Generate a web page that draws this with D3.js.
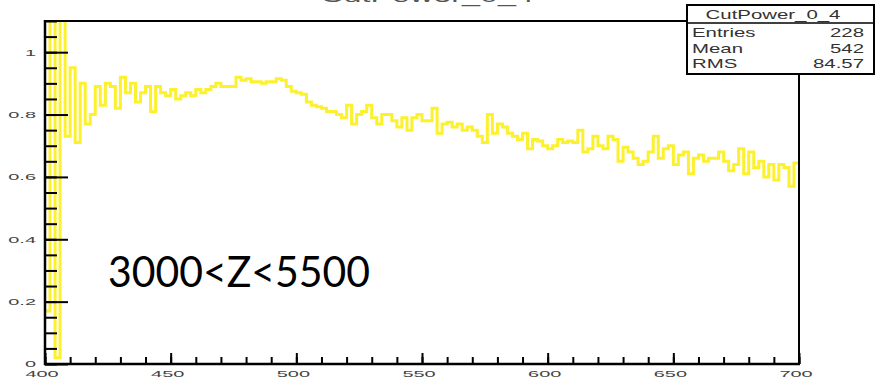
<!DOCTYPE html>
<html><head><meta charset="utf-8">
<script src="https://cdn.jsdelivr.net/npm/d3@7/dist/d3.min.js"></script>
<style>body{margin:0;background:#fff;overflow:hidden}</style>
</head><body>
<svg id="c" width="875" height="380"></svg>
<script>
// ---- data ----
const histName = "CutPower_0_4";
const binLow = 400;
const binWidth = 2;
const binValues = [
  0.17, 1.2, 0.02, 1.2, 0.73, 0.95, 0.71, 0.90, 0.77, 0.80,
  0.89, 0.83, 0.90, 0.89, 0.82, 0.92, 0.87, 0.90, 0.84, 0.87,
  0.89, 0.81, 0.89, 0.87, 0.86, 0.88, 0.85, 0.86, 0.87, 0.86,
  0.88, 0.87, 0.88, 0.89, 0.90, 0.89, 0.89, 0.89, 0.92, 0.91,
  0.915, 0.905, 0.905, 0.90, 0.905, 0.905, 0.915, 0.91, 0.89, 0.875,
  0.87, 0.865, 0.84, 0.83, 0.825, 0.82, 0.81, 0.81, 0.80, 0.79,
  0.83, 0.77, 0.80, 0.81, 0.83, 0.79, 0.77, 0.80, 0.80, 0.78,
  0.76, 0.79, 0.75, 0.79, 0.80, 0.78, 0.78, 0.82, 0.74, 0.77,
  0.775, 0.76, 0.77, 0.75, 0.76, 0.75, 0.73, 0.71, 0.80, 0.74,
  0.77, 0.76, 0.74, 0.73, 0.72, 0.74, 0.69, 0.72, 0.715, 0.70,
  0.69, 0.70, 0.72, 0.71, 0.715, 0.71, 0.75, 0.68, 0.69, 0.73,
  0.70, 0.69, 0.73, 0.72, 0.65, 0.695, 0.68, 0.66, 0.64, 0.65,
  0.68, 0.73, 0.66, 0.69, 0.70, 0.64, 0.67, 0.68, 0.61, 0.66,
  0.67, 0.65, 0.66, 0.66, 0.68, 0.65, 0.62, 0.64, 0.69, 0.61,
  0.68, 0.63, 0.65, 0.60, 0.64, 0.59, 0.64, 0.63, 0.57, 0.645
];
const xTickValues = [400, 450, 500, 550, 600, 650, 700];
const xTickLabels = ["400", "450", "500", "550", "600", "650", "700"];
const yTickValues = [0, 0.2, 0.4, 0.6, 0.8, 1];
const yTickLabels = ["0", "0.2", "0.4", "0.6", "0.8", "1"];
const statsLabels = ["Entries", "Mean", "RMS"];
const statsValues = ["228", "542", "84.57"];
const annotation = "3000<Z<5500";

// ---- layout ----
const W = 875, H = 380;
const L = 45, R = 799, T = 21, B = 364;
const svg = d3.select("#c");
const x = d3.scaleLinear().domain([400, 700]).range([L, R]);
const y = d3.scaleLinear().domain([0, 1.1]).range([B, T]);
const font = "'Liberation Sans', Arial, Helvetica, sans-serif";

function stretchedText(g, tx, ty, txt, size, sx, anchor, fill) {
  return g.append("text")
    .attr("transform", `translate(${tx},${ty}) scale(${sx},1)`)
    .attr("text-anchor", anchor)
    .attr("font-family", font)
    .attr("font-size", size)
    .attr("fill", fill)
    .text(txt);
}

// title (cut at top)
stretchedText(svg, 427, 1.5, histName, 19, 1.7, "middle", "#555");

// histogram
svg.append("clipPath").attr("id", "frameClip")
  .append("rect").attr("x", L).attr("y", T).attr("width", R - L).attr("height", B - T + 2);

const pts = binValues.map((v, i) => [binLow + i * binWidth, v]);
pts.push([binLow + binValues.length * binWidth, binValues[binValues.length - 1]]);
const line = d3.line().x(d => x(d[0])).y(d => y(d[1])).curve(d3.curveStepAfter);
svg.append("path")
  .attr("clip-path", "url(#frameClip)")
  .attr("d", line(pts))
  .attr("fill", "none")
  .attr("stroke", "#fcf12c")
  .attr("stroke-width", 3)
  .attr("stroke-linejoin", "miter");

// frame lines
svg.append("line").attr("x1", L).attr("x2", R).attr("y1", T).attr("y2", T)
  .attr("stroke", "#000").attr("stroke-width", 2);
svg.append("line").attr("x1", R).attr("x2", R).attr("y1", T).attr("y2", B)
  .attr("stroke", "#000").attr("stroke-width", 2);

// y axis (ticks pointing inward)
const yMinor = d3.axisLeft(y).tickValues(d3.range(0, 1.1001, 0.05)).tickSize(-12).tickFormat("");
const yMajor = d3.axisLeft(y).tickValues(yTickValues).tickSize(-23).tickFormat("");
[yMinor, yMajor].forEach(ax => {
  const g = svg.append("g").attr("transform", `translate(${L},0)`).call(ax);
  g.selectAll("line").attr("stroke", "#000").attr("stroke-width", 2);
  g.select(".domain").remove();
});
svg.append("line").attr("x1", L).attr("x2", L).attr("y1", T - 1).attr("y2", B + 1)
  .attr("stroke", "#000").attr("stroke-width", 2.5);
yTickValues.forEach((v, i) => {
  stretchedText(svg, 36, y(v) + 3.4, yTickLabels[i], 9.5, 2.1, "end", "#444");
});

// x axis
const xMinor = d3.axisBottom(x).tickValues(d3.range(400, 700.1, 10)).tickSize(-7).tickFormat("");
const xMajor = d3.axisBottom(x).tickValues(xTickValues).tickSize(-11).tickFormat("");
[xMinor, xMajor].forEach(ax => {
  const g = svg.append("g").attr("transform", `translate(0,${B})`).call(ax);
  g.selectAll("line").attr("stroke", "#000").attr("stroke-width", 2);
  g.select(".domain").remove();
});
svg.append("line").attr("x1", L - 1).attr("x2", R + 1).attr("y1", B).attr("y2", B)
  .attr("stroke", "#000").attr("stroke-width", 2.5);
xTickValues.forEach((v, i) => {
  stretchedText(svg, x(v) - 3, 377, xTickLabels[i], 9.5, 2.1, "middle", "#444");
});

// stats box
const bx = 687, by = 5, bw = 187, bh = 69;
svg.append("rect").attr("x", bx).attr("y", by).attr("width", bw).attr("height", bh)
  .attr("fill", "#fff").attr("stroke", "#000").attr("stroke-width", 2);
svg.append("line").attr("x1", bx).attr("x2", bx + bw).attr("y1", 23).attr("y2", 23)
  .attr("stroke", "#000").attr("stroke-width", 1.5);
stretchedText(svg, 773, 18.5, histName, 12, 1.7, "middle", "#333");
const rowY = [37, 53, 68];
statsLabels.forEach((s, i) => {
  stretchedText(svg, 692, rowY[i], s, 12, 1.7, "start", "#333");
  stretchedText(svg, 864, rowY[i], statsValues[i], 12, 1.7, "end", "#333");
});

// annotation
svg.append("text")
  .attr("x", 108).attr("y", 287)
  .attr("font-family", "Lato, 'Open Sans', sans-serif")
  .attr("font-size", 42)
  .attr("textLength", 262)
  .attr("lengthAdjust", "spacingAndGlyphs")
  .attr("fill", "#000")
  .text(annotation);
</script>
</body></html>
